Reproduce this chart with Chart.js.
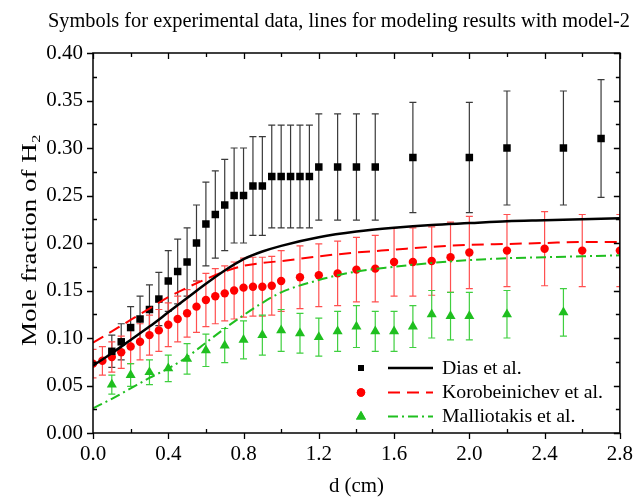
<!DOCTYPE html>
<html><head><meta charset="utf-8">
<script src="https://cdn.jsdelivr.net/npm/chart.js@4.4.1/dist/chart.umd.min.js"></script>
<style>html,body{margin:0;padding:0;background:#fff}#wrap{width:642px;height:498px}</style>
</head><body><div id="wrap"><canvas id="c" width="642" height="498"></canvas></div>
<script>
const titleText = 'Symbols for experimental data, lines for modeling results with model-2';
const xTitle = 'd (cm)';
const yTitle = 'Mole fraction of H\u2082';
const xTicks = [0, 0.4, 0.8, 1.2, 1.6, 2.0, 2.4, 2.8];
const yTicks = [0, 0.05, 0.10, 0.15, 0.20, 0.25, 0.30, 0.35, 0.40];
const seriesNames = ['Dias et al.', 'Korobeinichev et al.', 'Malliotakis et al.'];

const diasX = [0.1,0.15,0.2,0.25,0.3,0.35,0.4,0.45,0.5,0.55,0.6,0.65,0.7,0.75,0.8,0.85,0.9,0.95,1.0,1.05,1.1,1.15,1.2,1.3,1.4,1.5,1.7,2.0,2.2,2.5,2.7];
const diasY = [0.086,0.096,0.111,0.120,0.130,0.141,0.160,0.170,0.180,0.200,0.220,0.230,0.240,0.250,0.250,0.260,0.260,0.270,0.270,0.270,0.270,0.270,0.280,0.280,0.280,0.280,0.290,0.290,0.300,0.300,0.310];
const diasErr = [0.017,0.019,0.022,0.024,0.026,0.028,0.032,0.034,0.036,0.040,0.044,0.046,0.048,0.050,0.050,0.052,0.052,0.054,0.054,0.054,0.054,0.054,0.056,0.056,0.056,0.056,0.058,0.058,0.060,0.060,0.062];

const koroX = [0,0.05,0.1,0.15,0.2,0.25,0.3,0.35,0.4,0.45,0.5,0.55,0.6,0.65,0.7,0.75,0.8,0.85,0.9,0.95,1.0,1.1,1.2,1.3,1.4,1.5,1.6,1.7,1.8,1.9,2.0,2.2,2.4,2.6,2.8];
const koroY = [0.073,0.076,0.080,0.085,0.091,0.096,0.103,0.108,0.114,0.120,0.126,0.133,0.140,0.144,0.147,0.150,0.153,0.154,0.154,0.155,0.160,0.164,0.166,0.168,0.172,0.173,0.180,0.180,0.181,0.185,0.190,0.192,0.194,0.192,0.192];
const koroErr = [0.015,0.015,0.016,0.017,0.018,0.019,0.021,0.022,0.023,0.024,0.025,0.027,0.028,0.029,0.029,0.030,0.031,0.031,0.031,0.031,0.032,0.033,0.033,0.034,0.034,0.035,0.036,0.036,0.036,0.037,0.038,0.038,0.039,0.038,0.038];

const malX = [0.1,0.2,0.3,0.4,0.5,0.6,0.7,0.8,0.9,1.0,1.1,1.2,1.3,1.4,1.5,1.6,1.7,1.8,1.9,2.0,2.2,2.5];
const malY = [0.051,0.061,0.064,0.068,0.078,0.087,0.092,0.098,0.103,0.108,0.105,0.101,0.107,0.112,0.107,0.107,0.112,0.125,0.123,0.123,0.125,0.127];
const malErr = [0.010,0.012,0.013,0.014,0.016,0.017,0.018,0.020,0.021,0.022,0.021,0.020,0.021,0.022,0.021,0.021,0.022,0.025,0.025,0.025,0.025,0.025];

const modelX = [0,0.1,0.2,0.3,0.4,0.5,0.6,0.7,0.8,0.9,1.0,1.2,1.4,1.6,1.8,2.0,2.2,2.4,2.6,2.8];
const diasModel = [0.071,0.084,0.098,0.112,0.127,0.142,0.157,0.171,0.183,0.191,0.197,0.206,0.212,0.216,0.219,0.221,0.223,0.224,0.225,0.226];
const koroModel = [0.095,0.107,0.119,0.131,0.143,0.153,0.162,0.170,0.176,0.179,0.181,0.186,0.190,0.193,0.196,0.198,0.199,0.200,0.201,0.201];
const malModel = [0.026,0.036,0.047,0.058,0.068,0.080,0.095,0.110,0.124,0.137,0.148,0.161,0.170,0.175,0.179,0.182,0.184,0.185,0.186,0.187];

const FONT = '"Liberation Serif", "Times New Roman", serif';
const pts = (xs, ys) => xs.map((x, i) => ({x: x, y: ys[i]}));

const BLACK = '#000000', RED = '#ff0000', GREEN = '#1fbf1f';

const markerSets = [
  {label: seriesNames[0], data: pts(diasX, diasY), err: diasErr, pointStyle: 'rect', pointRadius: 5.3, legendRadius: 4.2, backgroundColor: BLACK, borderColor: BLACK, errColor: '#3a3a3a'},
  {label: seriesNames[1], data: pts(koroX, koroY), err: koroErr, pointStyle: 'circle', pointRadius: 4.2, legendRadius: 4.2, backgroundColor: RED, borderColor: RED, errColor: '#ff5050'},
  {label: seriesNames[2], data: pts(malX, malY), err: malErr, pointStyle: 'triangle', pointRadius: 5.8, legendRadius: 5.8, backgroundColor: GREEN, borderColor: GREEN, errColor: '#3fcf3f'}
].map(d => Object.assign(d, {showLine: false, borderWidth: 0, order: 2, isMarker: true}));

const lineSets = [
  {label: seriesNames[0] + ' model', data: pts(modelX, diasModel), borderColor: BLACK, borderWidth: 2.5, borderDash: []},
  {label: seriesNames[1] + ' model', data: pts(modelX, koroModel), borderColor: RED, borderWidth: 2, borderDash: [12, 7]},
  {label: seriesNames[2] + ' model', data: pts(modelX, malModel), borderColor: GREEN, borderWidth: 2, borderDash: [10, 4, 2, 4]}
].map(d => Object.assign(d, {showLine: true, pointRadius: 0, cubicInterpolationMode: 'monotone', fill: false, order: 1}));

// draw text stretched to a target width (matches the wider serif of the original)
function fitText(ctx, text, x, y, size, targetW, rot) {
  ctx.save();
  ctx.font = size + 'px ' + FONT;
  const w = ctx.measureText(text).width;
  ctx.translate(x, y);
  if (rot) ctx.rotate(rot);
  ctx.scale(targetW / w, 1);
  ctx.textAlign = 'center'; ctx.textBaseline = 'middle';
  ctx.fillStyle = '#000';
  ctx.fillText(text, 0, 0);
  ctx.restore();
}
function leftText(ctx, text, x, y, size, sx) {
  ctx.save();
  ctx.font = size + 'px ' + FONT;
  ctx.translate(x, y);
  ctx.scale(sx, 1);
  ctx.textAlign = 'left'; ctx.textBaseline = 'middle';
  ctx.fillStyle = '#000';
  ctx.fillText(text, 0, 0);
  ctx.restore();
}

const errorBars = {
  id: 'errorBars',
  beforeDatasetsDraw(chart) {
    const ctx = chart.ctx, xs = chart.scales.x, ys = chart.scales.y, a = chart.chartArea;
    ctx.save();
    ctx.beginPath(); ctx.rect(a.left, a.top, a.right - a.left, a.bottom - a.top); ctx.clip();
    chart.data.datasets.forEach(ds => {
      if (!ds.isMarker) return;
      ctx.strokeStyle = ds.errColor; ctx.lineWidth = 1.2;
      ds.data.forEach((p, i) => {
        const e = ds.err[i];
        const px = xs.getPixelForValue(p.x);
        const y1 = ys.getPixelForValue(p.y + e), y2 = ys.getPixelForValue(p.y - e);
        ctx.beginPath();
        ctx.moveTo(px, y1); ctx.lineTo(px, y2);
        ctx.moveTo(px - 3.5, y1); ctx.lineTo(px + 3.5, y1);
        ctx.moveTo(px - 3.5, y2); ctx.lineTo(px + 3.5, y2);
        ctx.stroke();
      });
    });
    ctx.restore();
  }
};

const frame = {
  id: 'frame',
  afterDraw(chart) {
    const ctx = chart.ctx, xs = chart.scales.x, ys = chart.scales.y, a = chart.chartArea;
    ctx.save();
    ctx.strokeStyle = '#000'; ctx.lineWidth = 1.5;
    ctx.strokeRect(a.left, a.top, a.right - a.left, a.bottom - a.top);
    ctx.lineWidth = 1.3;
    ctx.beginPath();
    for (let k = 0; k <= 14; k++) {
      const v = k * 0.2, px = Math.round(xs.getPixelForValue(v)) + 0.5;
      if (k % 2 === 0) { ctx.moveTo(px, a.bottom); ctx.lineTo(px, a.bottom + 6); ctx.moveTo(px, a.top); ctx.lineTo(px, a.top + 6); }
      else { ctx.moveTo(px, a.bottom); ctx.lineTo(px, a.bottom - 4); ctx.moveTo(px, a.top); ctx.lineTo(px, a.top + 4); }
    }
    for (let k = 0; k <= 16; k++) {
      const v = k * 0.025, py = Math.round(ys.getPixelForValue(v)) + 0.5;
      if (k % 2 === 0) { ctx.moveTo(a.left, py); ctx.lineTo(a.left - 6, py); ctx.moveTo(a.right, py); ctx.lineTo(a.right - 6, py); }
      else { ctx.moveTo(a.left, py); ctx.lineTo(a.left + 4, py); ctx.moveTo(a.right, py); ctx.lineTo(a.right - 4, py); }
    }
    ctx.stroke();
    ctx.restore();

    // chart title and axis titles
    fitText(ctx, titleText, 339, 22, 20, 582, 0);
    fitText(ctx, xTitle, (a.left + a.right) / 2, 486, 21, 55, 0);
    fitText(ctx, yTitle, 30, 240, 21, 212, -Math.PI / 2);

    // legend
    const rows = [368, 392.5, 416.5];
    const mx = 361, lx1 = 388, lx2 = 433, tx = 442;
    ctx.save();
    ctx.font = '19px ' + FONT;
    const sx = 161 / ctx.measureText(seriesNames[1]).width;
    ctx.restore();
    for (let i = 0; i < 3; i++) {
      const m = chart.data.datasets.find(d => d.isMarker && d.label === seriesNames[i]);
      const l = chart.data.datasets.find(d => !d.isMarker && d.label === seriesNames[i] + ' model');
      ctx.save();
      ctx.fillStyle = m.backgroundColor; ctx.strokeStyle = m.backgroundColor;
      Chart.helpers.drawPoint(ctx, {pointStyle: m.pointStyle, radius: m.legendRadius, rotation: 0, borderWidth: 0}, mx, rows[i]);
      ctx.fill();
      ctx.strokeStyle = l.borderColor; ctx.lineWidth = l.borderWidth; ctx.setLineDash(l.borderDash);
      ctx.beginPath(); ctx.moveTo(lx1, rows[i]); ctx.lineTo(lx2, rows[i]); ctx.stroke();
      ctx.restore();
      leftText(ctx, seriesNames[i], tx, rows[i] + 1, 19, sx);
    }
  }
};

new Chart(document.getElementById('c'), {
  type: 'scatter',
  data: {datasets: [...markerSets, ...lineSets]},
  options: {
    responsive: false, animation: false, devicePixelRatio: 1,
    layout: {padding: {top: 53, right: 14, bottom: 0, left: 0}},
    plugins: {legend: {display: false}, tooltip: {enabled: false}, title: {display: false}},
    scales: {
      x: {
        type: 'linear', min: 0, max: 2.8,
        afterBuildTicks: s => { s.ticks = xTicks.map(v => ({value: v})); },
        afterFit: s => { s.height = 65; },
        grid: {display: false, drawTicks: false}, border: {display: false},
        ticks: {padding: 9, color: '#000', font: {family: FONT, size: 21}, callback: v => Number(v).toFixed(1), maxRotation: 0},
        title: {display: false}
      },
      y: {
        type: 'linear', min: 0, max: 0.4,
        afterBuildTicks: s => { s.ticks = yTicks.map(v => ({value: v})); },
        afterFit: s => { s.width = 93; },
        grid: {display: false, drawTicks: false}, border: {display: false},
        ticks: {padding: 10, color: '#000', font: {family: FONT, size: 21}, callback: v => Number(v).toFixed(2)},
        title: {display: false}
      }
    }
  },
  plugins: [errorBars, frame]
});
</script>
</body></html>
